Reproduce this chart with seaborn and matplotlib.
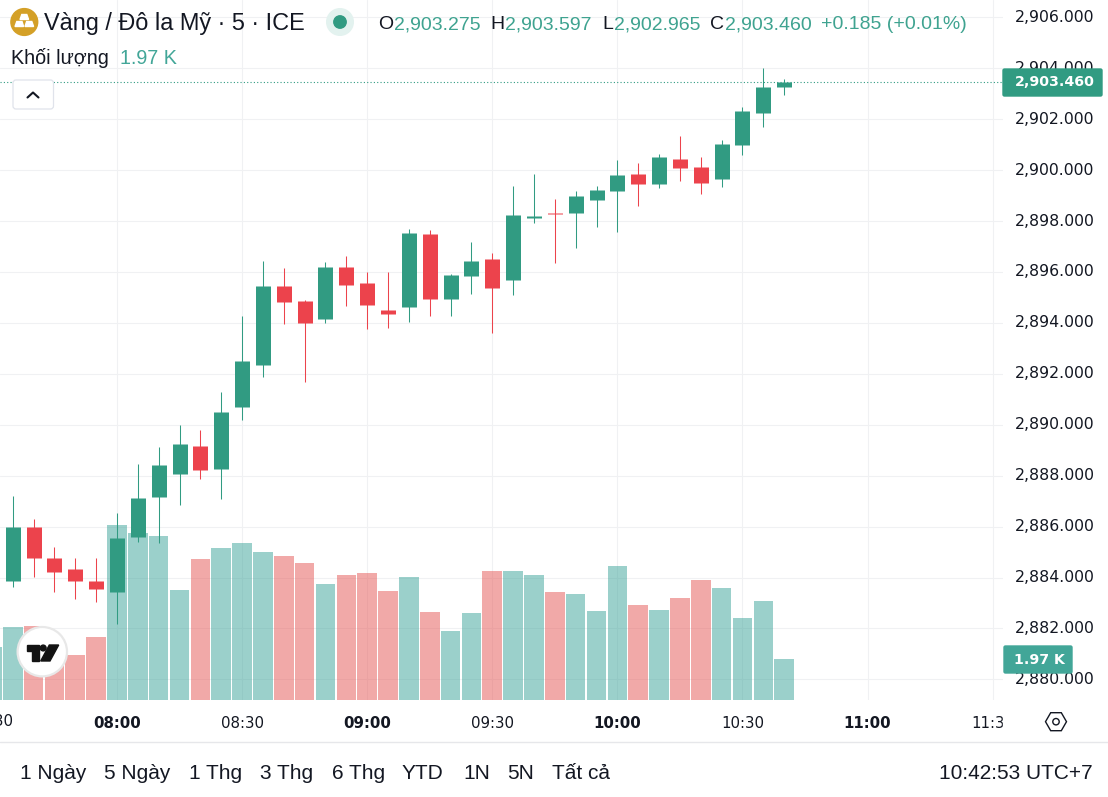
import pandas as pd
import seaborn as sns
import matplotlib.pyplot as plt
from matplotlib.patches import Circle, FancyBboxPatch, Polygon, Rectangle
from matplotlib.transforms import ScaledTranslation

# candles
times = ['07:35', '07:40', '07:45', '07:50', '07:55', '08:00', '08:05', '08:10', '08:15', '08:20',
         '08:25', '08:30', '08:35', '08:40', '08:45', '08:50', '08:55', '09:00', '09:05', '09:10',
         '09:15', '09:20', '09:25', '09:30', '09:35', '09:40', '09:45', '09:50', '09:55', '10:00',
         '10:05', '10:10', '10:15', '10:20', '10:25', '10:30', '10:35', '10:40']
opens = [2883.86, 2885.98, 2884.77, 2884.33, 2883.86, 2883.43, 2885.59, 2887.16, 2888.07, 2889.17,
         2888.26, 2890.70, 2892.35, 2895.45, 2894.86, 2894.15, 2896.20, 2895.57, 2894.51, 2894.62,
         2897.49, 2894.94, 2895.84, 2896.51, 2895.69, 2898.12, 2898.32, 2898.32, 2898.83, 2899.18,
         2899.85, 2899.46, 2900.44, 2900.12, 2899.65, 2900.99, 2902.24, 2903.275]
highs = [2887.20, 2886.30, 2885.20, 2884.77, 2884.77, 2886.53, 2888.46, 2889.13, 2889.99, 2889.79,
         2891.29, 2894.27, 2896.43, 2896.16, 2894.90, 2896.39, 2896.63, 2896.00, 2896.00, 2897.69,
         2897.65, 2895.92, 2897.18, 2896.75, 2899.38, 2899.85, 2898.87, 2899.18, 2899.38, 2900.40,
         2900.28, 2900.63, 2901.34, 2900.52, 2901.18, 2902.48, 2904.01, 2903.597]
lows = [2883.63, 2884.02, 2883.43, 2883.16, 2883.04, 2882.17, 2885.39, 2885.36, 2886.85, 2887.87,
        2887.08, 2890.19, 2891.88, 2893.96, 2891.68, 2894.00, 2894.66, 2893.76, 2893.80, 2894.04,
        2894.27, 2894.27, 2895.14, 2893.60, 2895.10, 2897.92, 2896.35, 2896.94, 2897.77, 2897.57,
        2898.59, 2899.30, 2899.57, 2899.06, 2899.34, 2900.59, 2901.69, 2902.965]
closes = [2885.98, 2884.77, 2884.22, 2883.86, 2883.55, 2885.55, 2887.12, 2888.42, 2889.24, 2888.22,
          2890.50, 2892.50, 2895.45, 2894.82, 2894.00, 2896.20, 2895.49, 2894.70, 2894.35, 2897.53,
          2894.94, 2895.88, 2896.43, 2895.37, 2898.24, 2898.20, 2898.28, 2898.98, 2899.22, 2899.81,
          2899.46, 2900.52, 2900.08, 2899.50, 2901.03, 2902.32, 2903.27, 2903.46]

# volume in K, first bar is the 07:30 one cut off at the left edge
vol_times = ['07:30'] + times
volumes = [2.55, 3.51, 3.56, 2.88, 2.16, 3.03, 8.41, 8.03, 7.88, 5.29, 6.78, 7.31, 7.55, 7.11, 6.92,
           6.58, 5.58, 6.01, 6.10, 5.24, 5.91, 4.23, 3.32, 4.18, 6.20, 6.20, 6.01, 5.19, 5.10, 4.28,
           6.44, 4.57, 4.33, 4.90, 5.77, 5.38, 3.94, 4.76, 1.97]

price_ticks = [2880, 2882, 2884, 2886, 2888, 2890, 2892, 2894, 2896, 2898, 2900, 2902, 2904, 2906]
time_ticks = ['08:00', '08:30', '09:00', '09:30', '10:00', '10:30', '11:00', '11:30']
range_buttons = ['1 Ngày', '5 Ngày', '1 Thg', '3 Thg', '6 Thg', 'YTD', '1N', '5N', 'Tất cả']
range_x = [20, 104, 189, 260, 332, 402, 463, 507, 552]

GREEN = '#319b82'
RED = '#ec434c'
INK = '#131722'
TEXT_GREEN = '#3fa390'


def to_minutes(t):
    h, m = t.split(':')
    return int(h) * 60 + int(m)


W, H = 1108, 797
PLOT_W, PLOT_H = 1003, 700

sns.set_theme(style='white')
plt.rcParams['font.family'] = ['Liberation Sans', 'DejaVu Sans']

candles = pd.DataFrame({'time': times, 'open': opens, 'high': highs, 'low': lows, 'close': closes})
candles['minute'] = candles['time'].map(to_minutes)
candles['direction'] = ['up' if c >= o else 'down' for o, c in zip(opens, closes)]

wicks = candles.melt(id_vars=['minute', 'direction'], value_vars=['low', 'high'], value_name='price')
bodies = candles.melt(id_vars=['minute', 'direction'], value_vars=['open', 'close'], value_name='price')

vol = pd.DataFrame({'minute': [to_minutes(t) for t in vol_times], 'volume': volumes,
                    'direction': ['up'] + list(candles['direction'])})

fig = plt.figure(figsize=(W / 100, H / 100), dpi=100, facecolor='white')
pos = [0, (H - PLOT_H) / H, PLOT_W / W, PLOT_H / H]
xlim = (451.95, 692.47)
ylim = (2879.19, 2906.68)

# bottom layer only holds grid and tick labels, so the grid stays under the bars
ax_grid = fig.add_axes(pos, zorder=1)
ax_grid.set_xlim(xlim)
ax_grid.set_ylim(ylim)
ax_grid.yaxis.tick_right()
ax_grid.set_yticks(price_ticks)
ax_grid.set_yticklabels([f'{v:,.3f}' for v in price_ticks], family='DejaVu Sans', fontsize=11.3, color=INK)
ax_grid.set_xticks([to_minutes(t) for t in time_ticks])
ax_grid.set_xticklabels(time_ticks, family='DejaVu Sans', fontsize=10.8, color=INK)
for lab in ax_grid.get_xticklabels():
    if lab.get_text().endswith(':00'):
        lab.set_fontweight('bold')
ax_grid.tick_params(axis='both', length=0)
ax_grid.tick_params(axis='y', pad=8.6)
ax_grid.tick_params(axis='x', pad=11.7)
ax_grid.grid(True, color='#f0f1f3', linewidth=0.8)
sns.despine(ax=ax_grid, left=True, right=True, top=True, bottom=True)
# price labels sit a little above their grid lines
for lab in ax_grid.get_yticklabels():
    lab.set_transform(lab.get_transform() + ScaledTranslation(0, 1.5 / 100, fig.dpi_scale_trans))
ax_grid.text(to_minutes('07:30'), -0.031, '07:30', transform=ax_grid.get_xaxis_transform(), ha='center',
             va='center', family='DejaVu Sans', fontsize=10.8, color=INK, clip_on=False)

ax_vol = fig.add_axes(pos, zorder=2)
ax_vol.patch.set_visible(False)
sns.barplot(data=vol, x='minute', y='volume', hue='direction', palette={'up': '#39a399', 'down': '#e55553'},
            native_scale=True, dodge=False, width=0.94, errorbar=None, alpha=0.5, saturation=1,
            linewidth=0, legend=False, ax=ax_vol)
ax_vol.set_xlim(xlim)
ax_vol.set_ylim(0, 33.65)
ax_vol.axis('off')

ax_price = fig.add_axes(pos, zorder=3)
ax_price.patch.set_visible(False)
palette = {'up': GREEN, 'down': RED}
sns.lineplot(data=wicks, x='minute', y='price', units='minute', estimator=None, hue='direction',
             palette=palette, linewidth=0.75, legend=False, solid_capstyle='butt', ax=ax_price)
sns.lineplot(data=bodies, x='minute', y='price', units='minute', estimator=None, hue='direction',
             palette=palette, linewidth=10.8, legend=False, solid_capstyle='butt', ax=ax_price)
ax_price.axhline(closes[-1], color=GREEN, linewidth=0.8, linestyle=(0, (1, 2)))
ax_price.set_xlim(xlim)
ax_price.set_ylim(ylim)
ax_price.axis('off')

# header, footer and badges in pixel coords
ov = fig.add_axes([0, 0, 1, 1], zorder=4)
ov.patch.set_visible(False)
ov.set_xlim(0, W)
ov.set_ylim(H, 0)
ov.axis('off')

ov.add_patch(Rectangle((PLOT_W, 703), W - PLOT_W, 37, color='white', zorder=1))
ov.plot([0, W], [742, 742], color='#e6e7ea', linewidth=1)

# symbol icon
ov.add_patch(Circle((24.3, 22), 13.4, color='#d4a027'))
ov.add_patch(Polygon([(21.8, 14.5), (26.8, 14.5), (28.6, 19.5), (20, 19.5)], color='white', zorder=3))
ov.add_patch(Polygon([(16.8, 21.5), (22, 21.5), (23.6, 26.5), (15, 26.5)], color='white', zorder=3))
ov.add_patch(Polygon([(26.6, 21.5), (31.8, 21.5), (33.6, 26.5), (25, 26.5)], color='white', zorder=3))
ov.text(44, 30, 'Vàng / Đô la Mỹ · 5 · ICE', fontsize=16.9, color=INK, va='baseline')

# market status dot
ov.add_patch(Circle((340, 22), 13.3, color='#e3f2ef'))
ov.add_patch(Circle((340, 22), 6.2, color=GREEN, zorder=3))

# OHLC legend
for x, s, c in [(378, 'O', INK), (394, '2,903.275', TEXT_GREEN), (490, 'H', INK), (505, '2,903.597', TEXT_GREEN),
                (602, 'L', INK), (614, '2,902.965', TEXT_GREEN), (710, 'C', INK), (725, '2,903.460', TEXT_GREEN),
                (821, '+0.185 (+0.01%)', TEXT_GREEN)]:
    ov.text(x, 29, s, fontsize=14, color=c, va='baseline')

ov.text(11, 64, 'Khối lượng', fontsize=14.2, color=INK, va='baseline')
ov.text(120, 64, '1.97 K', fontsize=14.2, color='#42a698', va='baseline')

# collapse button
ov.add_patch(FancyBboxPatch((14, 81), 38.5, 27, boxstyle='round,pad=1,rounding_size=3', facecolor='white',
                            edgecolor='#e0e3eb', linewidth=0.9))
ov.plot([27.5, 33, 38.5], [97.5, 92.5, 97.5], color=INK, linewidth=1.5, zorder=3)

# logo
ov.add_patch(Circle((42.3, 651.7), 24.7, facecolor='white', edgecolor='#e8e8e8', linewidth=1.6, zorder=3))
ov.add_patch(Polygon([(26.7, 645), (39.3, 645), (39.3, 661), (32.3, 661), (32.3, 651.3), (26.7, 651.3)],
                     color='#131313', zorder=4))
ov.add_patch(Circle((43.2, 648), 2.9, color='#131313', zorder=4))
ov.add_patch(Polygon([(49.3, 645), (58.7, 645), (50, 661), (40.7, 661)], color='#131313', zorder=4))

# last price and volume badges
ov.add_patch(FancyBboxPatch((1004, 70), 97, 25, boxstyle='round,pad=1,rounding_size=1.5', color=GREEN, zorder=3))
ov.text(1055, 82, f'{closes[-1]:,.3f}', fontsize=10.2, family='DejaVu Sans', fontweight='bold', color='white',
        ha='center', va='center', zorder=4)
ov.add_patch(FancyBboxPatch((1005, 647), 66, 25, boxstyle='round,pad=1,rounding_size=1.5', color='#42a698', zorder=3))
ov.text(1039, 659.5, f'{volumes[-1]:.2f} K', fontsize=10.2, family='DejaVu Sans', color='white', ha='center',
        va='center', fontweight='bold', zorder=4)

# settings hexagon
ov.add_patch(Polygon([(1045.5, 721.7), (1050.7, 712.7), (1061.3, 712.7), (1066.5, 721.7), (1061.3, 730.7), (1050.7, 730.7)],
                     fill=False, edgecolor=INK, linewidth=1, zorder=3))
ov.add_patch(Circle((1056, 721.7), 3.2, fill=False, edgecolor=INK, linewidth=1, zorder=3))

for x, s in zip(range_x, range_buttons):
    ov.text(x, 779, s, fontsize=15, color=INK, va='baseline')
ov.text(1093, 779, '10:42:53 UTC+7', fontsize=15, color=INK, ha='right', va='baseline')

fig.savefig('out.png', dpi=100)
